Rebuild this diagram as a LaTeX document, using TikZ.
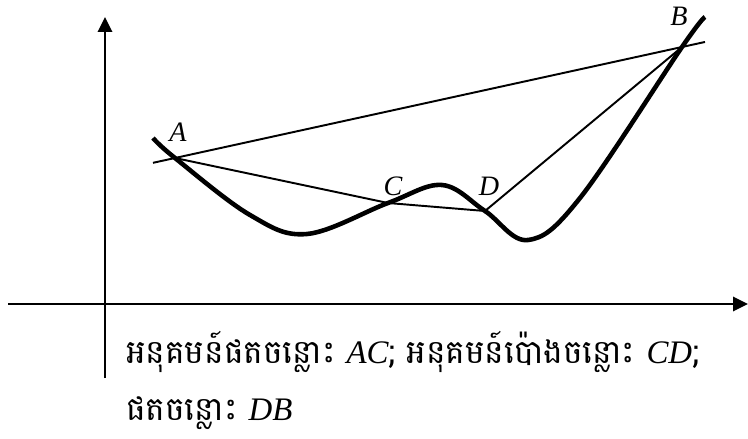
\documentclass[tikz,border=0pt]{standalone}
\usepackage{fontspec}
\newfontfamily\khmerfont[Script=Khmer]{Battambang}
\newfontfamily\latfont{Liberation Serif}
\newcommand\pt[1]{{\latfont\itshape #1}}
\usetikzlibrary{arrows.meta,calc}

\begin{document}
\begin{tikzpicture}[x=0.02cm,y=-0.02cm,
  axe/.style={line width=1.7pt,-{Triangle[length=8.5pt,width=8pt]}},
  corde/.style={line width=1.1pt},
  courbe/.style={line width=2.6pt},
  lettre/.style={font=\fontsize{16}{16}\latfont\itshape},
  texte/.style={anchor=base west,font=\fontsize{18.7}{18.7}\khmerfont}]
\useasboundingbox (0,0) rectangle (748,439);

% Axes
\coordinate (xg) at (8,304);
\coordinate (xd) at (748,304);
\coordinate (yb) at (105,378);
\coordinate (yh) at (105,17);
\draw[axe] (xg) -- (xd);
\draw[axe] (yb) -- (yh);

% Points
\coordinate (A) at (175,158);
\coordinate (C) at (388,203);
\coordinate (D) at (485,211);
\coordinate (B) at (682,47);

% Courbe
\draw[courbe] plot[smooth,tension=0.6] coordinates
  {(153,138) (A) (250,215) (307,234) (C) (442,185) (D) (528,240) (580,198) (B) (705,17)};

% Cordes
\draw[corde] ($(A)!-22/507!(B)$) -- ($(B)!-23/507!(A)$);
\draw[corde] (A) -- (C) -- (D) -- (B);

% Noms des points
\node[lettre] (nA) at (178,132) {A};
\node[lettre] (nC) at (393,186) {C};
\node[lettre] (nD) at (489,186) {D};
\node[lettre] (nB) at (679,16) {B};

% Texte
\node[texte] (t1) at (120,363) {អនុគមន៍ផតចន្លោះ \pt{AC}; អនុគមន៍ប៉ោងចន្លោះ \pt{CD};};
\node[texte] (t2) at (120,420) {ផតចន្លោះ \pt{DB}};

\end{tikzpicture}
\end{document}
